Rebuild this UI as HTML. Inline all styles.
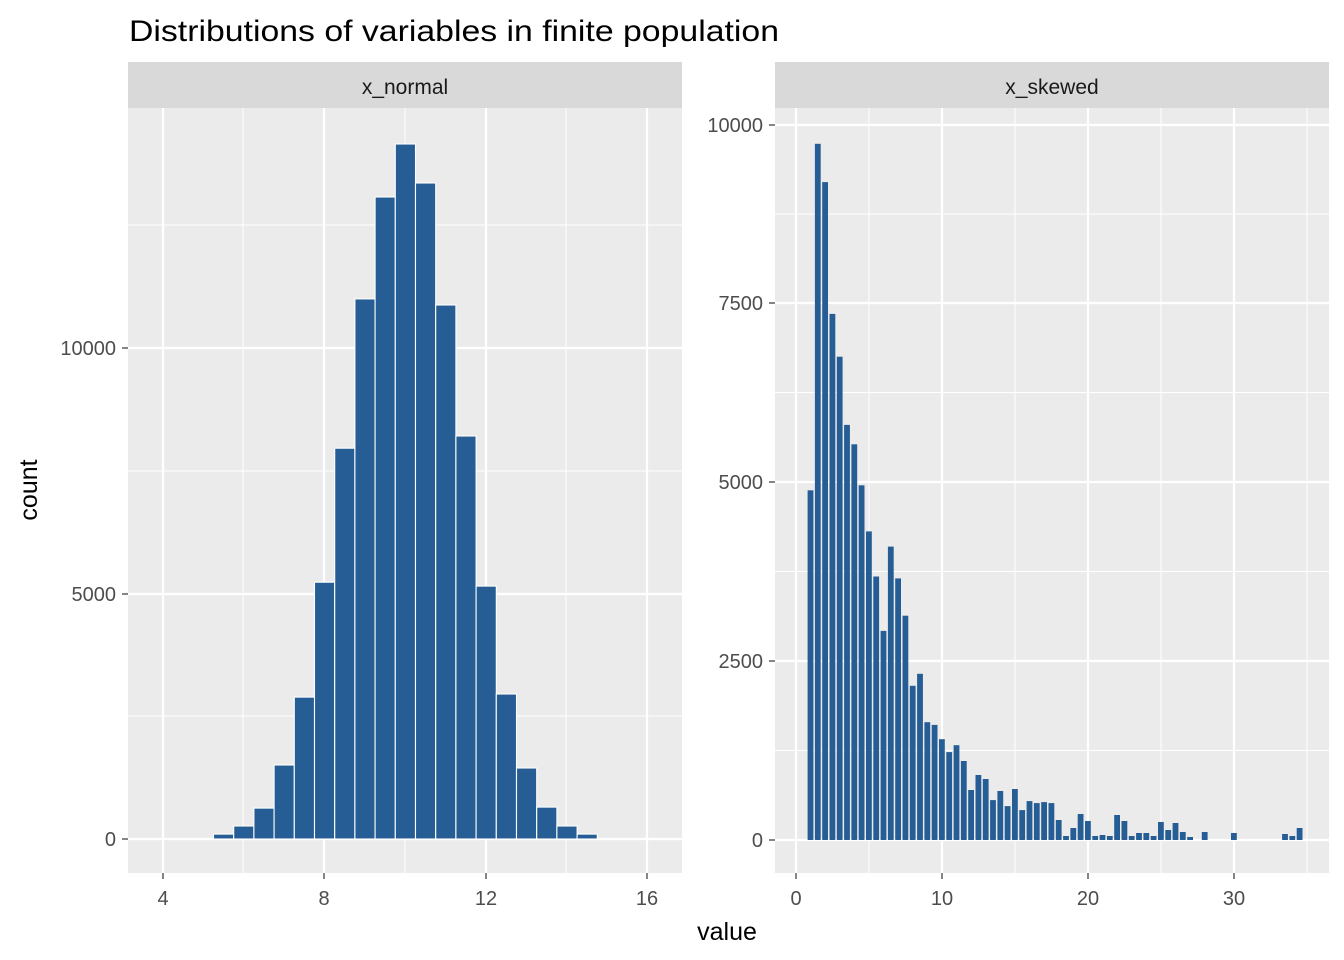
<!DOCTYPE html>
<html><head><meta charset="utf-8"><style>html,body{margin:0;padding:0;background:#fff}svg{display:block}text{font-family:"Liberation Sans",Arial,sans-serif}</style></head>
<body>
<svg id="s" width="1344" height="960" xmlns="http://www.w3.org/2000/svg">
<rect width="1344" height="960" fill="#fff"/>
<text x="129" y="41" font-size="30" fill="#000" textLength="650" lengthAdjust="spacingAndGlyphs">Distributions of variables in finite population</text>
<rect x="128" y="62" width="554" height="46" fill="#d9d9d9"/>
<text x="405" y="94" font-size="21" fill="#1a1a1a" text-anchor="middle">x_normal</text>
<rect x="775" y="62" width="554" height="46" fill="#d9d9d9"/>
<text x="1052" y="94" font-size="21" fill="#1a1a1a" text-anchor="middle">x_skewed</text>
<rect x="128" y="108" width="554" height="765" fill="#ebebeb"/>
<rect x="775" y="108" width="554" height="765" fill="#ebebeb"/>
<g id="g"></g>
<text x="727" y="940" font-size="25" fill="#000" text-anchor="middle">value</text>
<text transform="translate(37,490) rotate(-90)" font-size="25" fill="#000" text-anchor="middle">count</text>
</svg>
<script>
const g=document.getElementById('g');let h='';
function L(x1,y1,x2,y2,w,c){h+=`<line x1="${x1}" y1="${y1}" x2="${x2}" y2="${y2}" stroke="${c||'#fff'}" stroke-width="${w}"/>`;}
function T(x,y,t,a){h+=`<text x="${x}" y="${y}" font-size="20" fill="#4d4d4d" text-anchor="${a}">${t}</text>`;}
[243,405,566].forEach(x=>L(x,108,x,873,1));
[716,471,225].forEach(y=>L(128,y,682,y,1));
[163,324,486,647].forEach(x=>L(x,108,x,873,2.2));
[839,594,348].forEach(y=>L(128,y,682,y,2.2));
[869,1015,1161,1307].forEach(x=>L(x,108,x,873,1));
[750.5,571.5,392.5,214].forEach(y=>L(775,y,1329,y,1));
[796,942,1088,1234].forEach(x=>L(x,108,x,873,2.2));
[840,661,482,303,125].forEach(y=>L(775,y,1329,y,2.2));
const ln=[[5.5,100],[6,265],[6.5,630],[7,1507],[7.5,2890],[8,5230],[8.5,7960],[9,11000],[9.5,13075],[10,14155],[10.5,13360],[11,10875],[11.5,8207],[12,5150],[12.5,2953],[13,1446],[13.5,650],[14,265],[14.5,100]];
ln.forEach(([v,c])=>{const x=163+(v-4.25)*40.4,t=839-c*0.0491;h+=`<rect x="${x.toFixed(1)}" y="${t.toFixed(1)}" width="20.2" height="${(839-t).toFixed(1)}" fill="#265d94" stroke="#fff" stroke-width="1.1"/>`;});
const rs=[4893,9743,9206,7362,6763,5809,5537,4964,4318,3687,2926,4106,3661,3139,2158,2326,1648,1611,1411,1230,1327,1105,699,909,853,559,685,475,713,419,545,517,531,517,280,56,168,364,266,56,70,56,350,266,56,98,98,56,252,140,238,112,42,0,112,0,0,0,98,0,0,0,0,0,0,84,56,168];
rs.forEach((c,i)=>{if(!c)return;const cx=810.5+i*7.3,t=840-c*0.07146;h+=`<rect x="${(cx-2.9).toFixed(1)}" y="${t.toFixed(1)}" width="5.8" height="${(840-t).toFixed(1)}" fill="#265d94"/>`;});
[[163,'4'],[324,'8'],[486,'12'],[647,'16']].forEach(([x,t])=>{L(x,873,x,879,1.2,'#333');T(x,905,t,'middle');});
[[839,'0'],[594,'5000'],[348,'10000']].forEach(([y,t])=>{L(122,y,128,y,1.2,'#333');T(116,y+7,t,'end');});
[[796,'0'],[942,'10'],[1088,'20'],[1234,'30']].forEach(([x,t])=>{L(x,873,x,879,1.2,'#333');T(x,905,t,'middle');});
[[840,'0'],[661,'2500'],[482,'5000'],[303,'7500'],[125,'10000']].forEach(([y,t])=>{L(769,y,775,y,1.2,'#333');T(763,y+7,t,'end');});
g.innerHTML=h;
</script>
</body></html>
